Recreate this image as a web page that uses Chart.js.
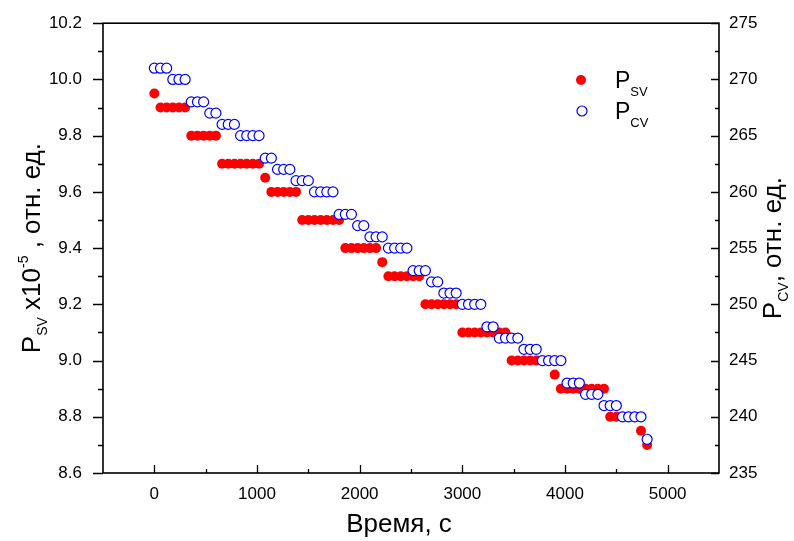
<!DOCTYPE html>
<html><head><meta charset="utf-8">
<script src="https://cdn.jsdelivr.net/npm/chart.js@4/dist/chart.umd.min.js"></script>
<style>html,body{margin:0;padding:0;background:#fff}#wrap{width:794px;height:541px}</style>
</head><body><div id="wrap"><canvas id="c" width="794" height="541"></canvas></div>
<script>
// Time, s
const timeSec = [0,60,120,180,240,300,360,420,480,540,600,660,720,780,840,900,960,1020,1080,1140,1200,1260,1320,1380,1440,1500,1560,1620,1680,1740,1800,1860,1920,1980,2040,2100,2160,2220,2280,2340,2400,2460,2520,2580,2640,2700,2760,2820,2880,2940,3000,3060,3120,3180,3240,3300,3360,3420,3480,3540,3600,3660,3720,3780,3840,3900,3960,4020,4080,4140,4200,4260,4320,4380,4440,4500,4560,4620,4680,4740,4800];
// P_SV x10^-5 (left axis)
const pSV = [9.95,9.9,9.9,9.9,9.9,9.9,9.8,9.8,9.8,9.8,9.8,9.7,9.7,9.7,9.7,9.7,9.7,9.7,9.65,9.6,9.6,9.6,9.6,9.6,9.5,9.5,9.5,9.5,9.5,9.5,9.5,9.4,9.4,9.4,9.4,9.4,9.4,9.35,9.3,9.3,9.3,9.3,9.3,9.3,9.2,9.2,9.2,9.2,9.2,9.2,9.1,9.1,9.1,9.1,9.1,9.1,9.1,9.1,9.0,9.0,9.0,9.0,9.0,9.0,9.0,8.95,8.9,8.9,8.9,8.9,8.9,8.9,8.9,8.9,8.8,8.8,8.8,8.8,8.8,8.75,8.7];
// P_CV (right axis)
const pCV = [271,271,271,270,270,270,268,268,268,267,267,266,266,266,265,265,265,265,263,263,262,262,262,261,261,261,260,260,260,260,258,258,258,257,257,256,256,256,255,255,255,255,253,253,253,252,252,251,251,251,250,250,250,250,248,248,247,247,247,247,246,246,246,245,245,245,245,243,243,243,242,242,242,241,241,241,240,240,240,240,238];
// Tick labels
const xTickLabels = [0,1000,2000,3000,4000,5000];
const leftTickLabels = [8.6,8.8,9.0,9.2,9.4,9.6,9.8,10.0,10.2];
const rightTickLabels = [235,240,245,250,255,260,265,270,275];
const xTitle = 'Время, с';

const FONT = '"Liberation Sans", Arial, Helvetica, sans-serif';

function richWidth(ctx, parts){
  let w = 0;
  for (const p of parts){ ctx.font = p.size + 'px ' + FONT; w += ctx.measureText(p.t).width; }
  return w;
}
function drawRich(ctx, parts, x, y, rot, align){
  ctx.save();
  ctx.translate(x, y);
  if (rot) ctx.rotate(rot);
  const w = richWidth(ctx, parts);
  let cx = align === 'left' ? 0 : -w/2;
  ctx.fillStyle = '#000';
  ctx.textBaseline = 'alphabetic';
  ctx.textAlign = 'left';
  for (const p of parts){
    ctx.font = p.size + 'px ' + FONT;
    ctx.fillText(p.t, cx, p.dy || 0);
    cx += ctx.measureText(p.t).width;
  }
  ctx.restore();
}

const decor = {
  id: 'decor',
  afterDatasetsDraw(chart){
    const ctx = chart.ctx, a = chart.chartArea;
    const sx = chart.scales.x, sy = chart.scales.y, sy2 = chart.scales.y2;
    ctx.save();
    ctx.strokeStyle = '#000';
    ctx.lineWidth = 1.6;
    ctx.strokeRect(a.left, a.top, a.right - a.left, a.bottom - a.top);
    ctx.lineWidth = 1.3;
    ctx.beginPath();
    for (let i = 0; i < xTickLabels.length; i++){
      const v = xTickLabels[i];
      const px = Math.round(sx.getPixelForValue(v)) + 0.5;
      ctx.moveTo(px, a.bottom); ctx.lineTo(px, a.bottom - 8);
      if (i < xTickLabels.length - 1){
        const m = Math.round(sx.getPixelForValue((v + xTickLabels[i+1]) / 2)) + 0.5;
        ctx.moveTo(m, a.bottom); ctx.lineTo(m, a.bottom - 4);
      }
    }
    for (let i = 0; i < leftTickLabels.length; i++){
      const v = leftTickLabels[i];
      const py = Math.round(sy.getPixelForValue(v)) + 0.5;
      ctx.moveTo(a.left, py); ctx.lineTo(a.left - 10, py);
      if (i < leftTickLabels.length - 1){
        const m = Math.round(sy.getPixelForValue((v + leftTickLabels[i+1]) / 2)) + 0.5;
        ctx.moveTo(a.left, m); ctx.lineTo(a.left - 5, m);
      }
    }
    for (let i = 0; i < rightTickLabels.length; i++){
      const v = rightTickLabels[i];
      const py = Math.round(sy2.getPixelForValue(v)) + 0.5;
      ctx.moveTo(a.right, py); ctx.lineTo(a.right - 8, py);
      if (i < rightTickLabels.length - 1){
        const m = Math.round(sy2.getPixelForValue((v + rightTickLabels[i+1]) / 2)) + 0.5;
        ctx.moveTo(a.right, m); ctx.lineTo(a.right - 4, m);
      }
    }
    ctx.stroke();
    ctx.restore();
  },
  afterDraw(chart){
    const ctx = chart.ctx, a = chart.chartArea;
    const cy = (a.top + a.bottom) / 2;
    drawRich(ctx, [{t: xTitle, size: 26}], 399, 532, 0, 'center');
    drawRich(ctx, [
      {t:'P', size:26}, {t:'SV', size:14, dy:7}, {t:' x10', size:26}, {t:'-5', size:14, dy:-12},
      {t:' , отн. ед.', size:26}
    ], 40, cy, -Math.PI/2, 'center');
    drawRich(ctx, [
      {t:'P', size:26}, {t:'CV', size:14, dy:7}, {t:', отн. ед.', size:26}
    ], 781, cy, -Math.PI/2, 'center');
    ctx.save();
    ctx.fillStyle = '#ff0000';
    ctx.beginPath(); ctx.arc(581, 80, 5, 0, Math.PI*2); ctx.fill();
    ctx.strokeStyle = '#0000ff'; ctx.fillStyle = '#fff'; ctx.lineWidth = 1.2;
    ctx.beginPath(); ctx.arc(582, 111, 5, 0, Math.PI*2); ctx.fill(); ctx.stroke();
    ctx.restore();
    drawRich(ctx, [{t:'P', size:23}, {t:'SV', size:13, dy:8}], 615, 88, 0, 'left');
    drawRich(ctx, [{t:'P', size:23}, {t:'CV', size:13, dy:8}], 615, 119, 0, 'left');
  }
};

const svPoints = timeSec.map((t, i) => ({x: t, y: pSV[i]}));
const cvPoints = timeSec.map((t, i) => ({x: t, y: pCV[i]}));

function fixTicks(arr){ return function(scale){ scale.ticks = arr.map(v => ({value: v})); }; }

new Chart(document.getElementById('c'), {
  type: 'scatter',
  data: {
    datasets: [
      { label: 'P_CV', data: cvPoints, yAxisID: 'y2', order: 0,
        pointRadius: 5, pointHoverRadius: 5, pointBackgroundColor: '#ffffff',
        pointBorderColor: '#0000ff', pointBorderWidth: 1.2, showLine: false },
      { label: 'P_SV', data: svPoints, yAxisID: 'y', order: 1,
        pointRadius: 5, pointHoverRadius: 5, pointBackgroundColor: '#ff0000',
        pointBorderColor: '#ff0000', pointBorderWidth: 0, showLine: false }
    ]
  },
  options: {
    responsive: false, animation: false, devicePixelRatio: 1,
    layout: { padding: { top: 19, left: 0, right: 0, bottom: 0 } },
    plugins: { legend: { display: false }, tooltip: { enabled: false } },
    scales: {
      x: {
        type: 'linear', position: 'bottom', min: -500, max: 5500,
        afterBuildTicks: fixTicks(xTickLabels),
        afterFit(s){ s.height = 68; },
        grid: { display: false }, border: { display: false },
        ticks: { color: '#000', font: { size: 17, family: FONT }, padding: 3, maxRotation: 0, autoSkip: false,
                 callback: v => String(v) }
      },
      y: {
        type: 'linear', position: 'left', min: 8.6, max: 10.2,
        afterBuildTicks: fixTicks(leftTickLabels),
        afterFit(s){ s.width = 103; },
        grid: { display: false }, border: { display: false },
        ticks: { color: '#000', font: { size: 17, family: FONT }, padding: 13, autoSkip: false,
                 callback: v => Number(v).toFixed(1) }
      },
      y2: {
        type: 'linear', position: 'right', min: 235, max: 275,
        afterBuildTicks: fixTicks(rightTickLabels),
        afterFit(s){ s.width = 75; },
        grid: { display: false }, border: { display: false },
        ticks: { color: '#000', font: { size: 17, family: FONT }, padding: 2, autoSkip: false,
                 callback: v => String(v) }
      }
    }
  },
  plugins: [decor]
});
</script></body></html>
